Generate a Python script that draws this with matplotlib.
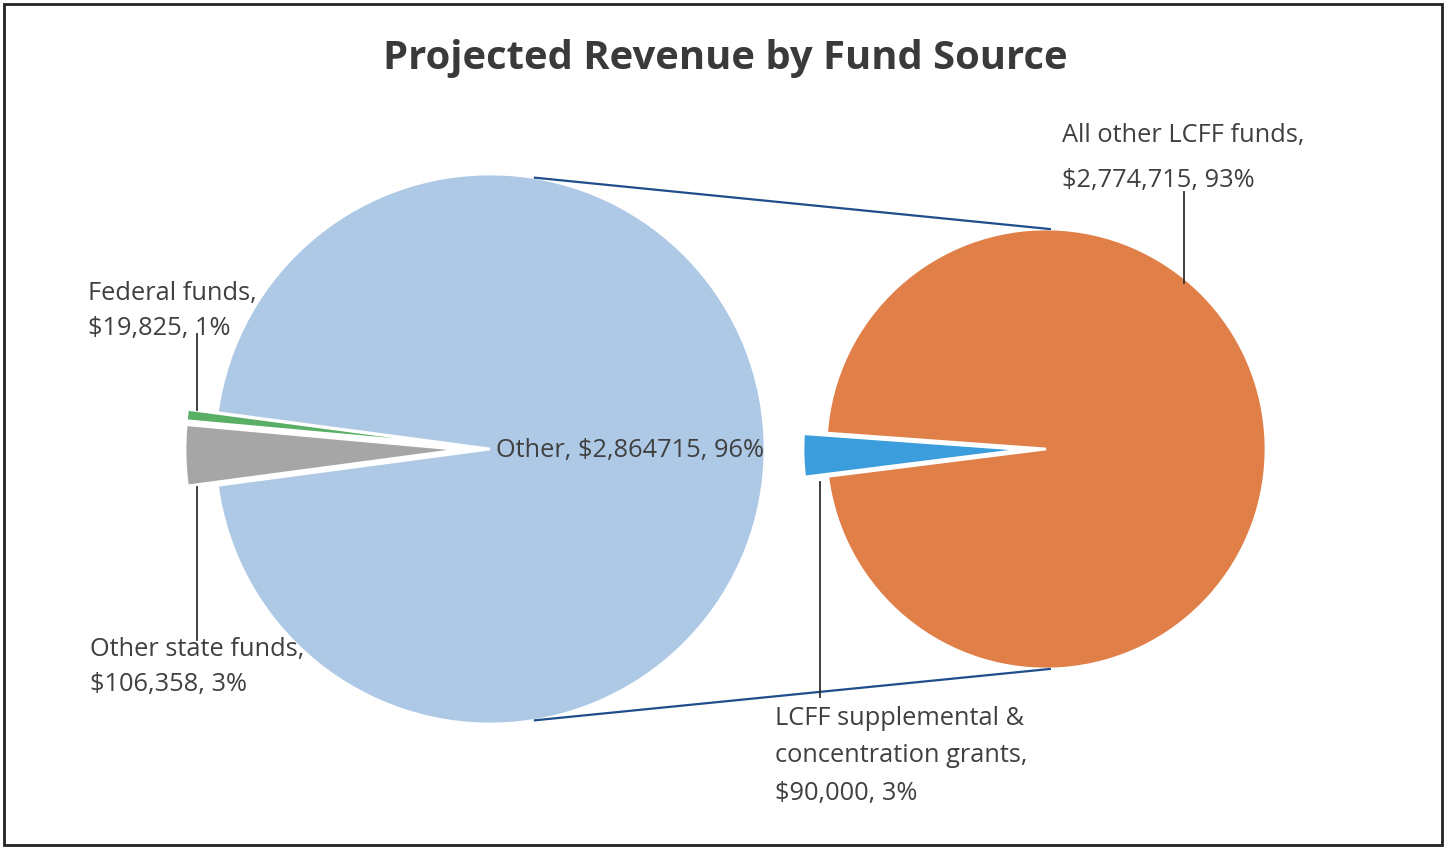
import numpy as np
import matplotlib.pyplot as plt
from matplotlib.patches import Rectangle

# main pie: Other / Federal / Other state
main_labels = ['Other', 'Federal funds', 'Other state funds']
main_values = [2864715, 19825, 106358]
main_text = ['Other, $2,864715, 96%', 'Federal funds,\n$19,825, 1%', 'Other state funds,\n$106,358, 3%']

# secondary pie: breakdown of "Other"
sub_labels = ['All other LCFF funds', 'LCFF supplemental & concentration grants']
sub_values = [2774715, 90000]
sub_text = ['All other LCFF funds,\n$2,774,715, 93%', 'LCFF supplemental &\nconcentration grants,\n$90,000, 3%']

main_colors = ['#adc9e6', '#5aaf66', '#a6a6a6']
sub_colors = ['#e07f48', '#3b9ddc']

plt.rcParams['font.family'] = ['Open Sans', 'DejaVu Sans']

fig = plt.figure(figsize=(14.5, 8.48), dpi=100)
ax = fig.add_axes([0, 0, 1, 1])
H = 848

# geometry in pixel units (y flipped)
c1 = (490, H - 449)
r1 = 275
c2 = (1046, H - 449)
r2 = 220

small = sum(main_values[1:]) / sum(main_values) * 360
start1 = 180 + small / 2
ax.pie(main_values, colors=main_colors, startangle=start1, counterclock=True,
       center=c1, radius=r1, explode=[0, 30, 30],
       wedgeprops=dict(edgecolor='white', linewidth=2), frame=True)

small2 = sub_values[1] / sum(sub_values) * 360
start2 = 181.5 + small2 / 2
ax.pie(sub_values, colors=sub_colors, startangle=start2, counterclock=True,
       center=c2, radius=r2, explode=[0, 23],
       wedgeprops=dict(edgecolor='white', linewidth=2), frame=True)

# connector lines between the pies
for a1, a2 in [(80.6, 89), (-80.6, -89)]:
    p1 = (c1[0] + r1 * np.cos(np.radians(a1)), c1[1] + r1 * np.sin(np.radians(a1)))
    p2 = (c2[0] + r2 * np.cos(np.radians(a2)), c2[1] + r2 * np.sin(np.radians(a2)))
    ax.plot([p1[0], p2[0]], [p1[1], p2[1]], color='#1f4e8c', lw=1.6)

ax.set_xlim(0, 1450)
ax.set_ylim(0, H)
ax.set_aspect('auto')
ax.axis('off')

txt = dict(fontsize=18.3, color='#404040', linespacing=1.5)
ax.text(496, H - 451, main_text[0], ha='left', va='center', **txt)
ax.text(88, H - 311, main_text[1], ha='left', va='center', **txt)
ax.text(90, H - 667, main_text[2], ha='left', va='center', **txt)
ax.text(1062, H - 158, sub_text[0], ha='left', va='center', fontsize=18.3,
        color='#404040', linespacing=2.08)
ax.text(775, H - 756, sub_text[1], ha='left', va='center', fontsize=18.3,
        color='#404040', linespacing=1.65)

# leader lines
lead = dict(color='#303030', lw=1.3)
ax.plot([197, 197], [H - 334, H - 410], **lead)
ax.plot([197, 197], [H - 487, H - 640], **lead)
ax.plot([1184, 1184], [H - 192, H - 283], **lead)
ax.plot([820, 820], [H - 482, H - 697], **lead)

ax.text(725, H - 59, 'Projected Revenue by Fund Source', ha='center', va='center',
        fontsize=28.8, fontweight='bold', color='#3a3a3a')

ax.add_patch(Rectangle((4, H - 845), 1438, 841, fill=False, edgecolor='#222222', lw=2))

fig.savefig('out.png', dpi=100)
